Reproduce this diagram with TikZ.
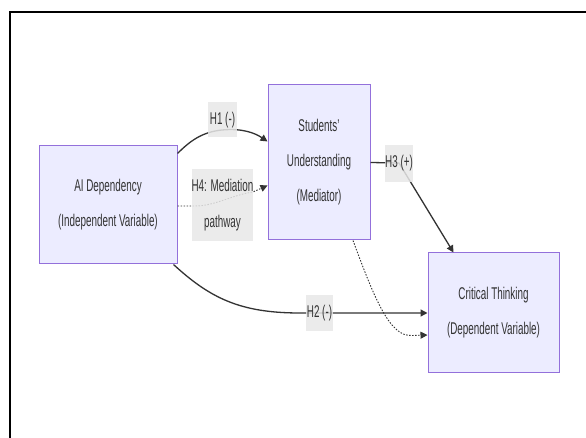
\documentclass[tikz,border=0pt]{standalone}
\usepackage{fontspec}
\setmainfont[FakeStretch=0.58]{Liberation Sans}
\usetikzlibrary{arrows.meta,calc}
\definecolor{boxfill}{HTML}{ECECFF}
\definecolor{boxline}{HTML}{9370DB}
\definecolor{txt}{HTML}{333333}
\definecolor{lblbg}{HTML}{E8E8E8}
\tikzset{
  varbox/.style={draw=boxline,fill=boxfill,line width=1pt,rectangle,align=center,
    text=txt,font=\fontsize{17}{35}\selectfont,inner sep=0pt},
  lbl/.style={fill=lblbg,fill opacity=0.85,text opacity=1,rectangle,align=center,
    text=txt,font=\fontsize{17}{36}\selectfont,inner sep=0pt},
  edge/.style={draw=txt,line width=1.3pt,-{Triangle[length=7pt,width=7pt]}},
  dotedge/.style={draw=txt,line width=0.9pt,dash pattern=on 1.5pt off 1.5pt,
    -{Triangle[length=7pt,width=7pt]}},
  plainedge/.style={draw=txt,line width=1.3pt}
}
\begin{document}
\begin{tikzpicture}[x=1pt,y=-1pt]
\useasboundingbox (0,0) rectangle (586,438);
\fill[white] (0,0) rectangle (586,438);
\draw[line width=2pt,black] (9.5,438) -- (9.5,12.5) -- (586,12.5);

% boxes
\node[varbox,minimum width=138pt,minimum height=118pt] (ai) at (108,205)
  {AI Dependency\\(Independent Variable)};
\node[varbox,minimum width=102pt,minimum height=155pt] (stu) at (319,162.5)
  {Students'\\Understanding\\(Mediator)};
\node[varbox,minimum width=131pt,minimum height=119pt] (ct) at (493.5,312.5)
  {Critical Thinking\\(Dependent Variable)};

% connectors
\coordinate (h1s) at ($(ai.north east)+(0,8)$);
\coordinate (h1e) at ($(stu.north west)+(0,57)$);
\draw[edge] (h1s) .. controls (190,141) and (202,132) .. (222,130)
  .. controls (242,128) and (255,133) .. (h1e);

\coordinate (h4s) at ($(ai.east)+(0,1)$);
\coordinate (h4e) at ($(stu.north west)+(0,101)$);
\draw[dotedge] (h4s) -- (195,206) .. controls (215,206) and (232,195) .. (253,192) -- (h4e);

\coordinate (h3m) at (399,163);
\coordinate (h3e) at ($(ct.north west)+(26,0)$);
\draw[edge] (stu.east) -- (h3m) -- (h3e);

\coordinate (h2s) at ($(ai.south east)+(-4,0)$);
\coordinate (h2e) at ($(ct.west)+(0,0.5)$);
\draw[edge] (h2s) .. controls (210,298) and (240,313) .. (300,313) -- (h2e);

\coordinate (mds) at ($(stu.south)+(34,0)$);
\coordinate (mde) at ($(ct.west)+(0,22.5)$);
\draw[dotedge] (mds) .. controls (375,300) and (390,337) .. (412,335.5) -- (mde);

% labels
\node[lbl,minimum width=29pt,minimum height=35pt] (l1) at (222.5,120) {H1 (-)};
\node[lbl,minimum width=61pt,minimum height=72pt] (l4) at (222.5,205) {H4: Mediation\\pathway};
\node[lbl,minimum width=28pt,minimum height=37pt] (l3) at (399,163.5) {H3 (+)};
\node[lbl,minimum width=27pt,minimum height=36pt] (l2) at (319.5,313) {H2 (-)};
\end{tikzpicture}
\end{document}
